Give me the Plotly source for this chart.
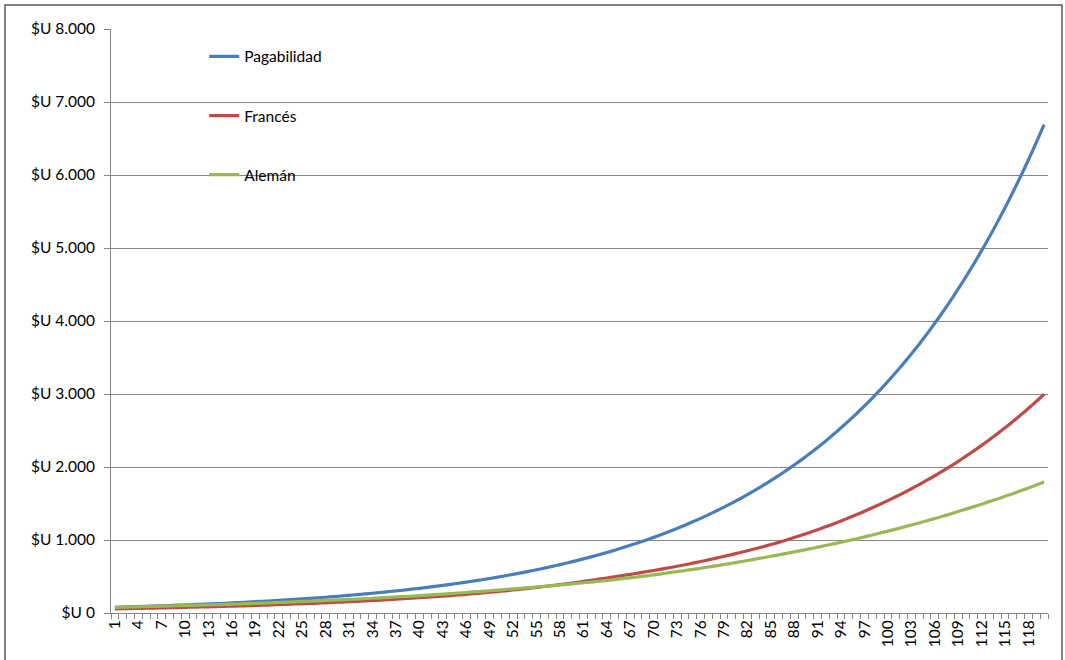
import plotly.graph_objects as go

# Monthly instalment index (1..120)
periods = list(range(1, 121))

# Instalment in $U for each amortisation system
pagabilidad = [
    79, 82, 85, 88, 92, 95, 99, 103, 107, 111,
    115, 119, 124, 128, 133, 138, 144, 149, 155, 161,
    167, 173, 180, 186, 193, 201, 208, 216, 225, 233,
    242, 251, 261, 271, 281, 292, 303, 314, 326, 338,
    351, 365, 379, 393, 408, 423, 439, 456, 473, 491,
    510, 530, 550, 571, 592, 615, 638, 662, 688, 714,
    741, 769, 798, 828, 860, 893, 927, 962, 998, 1036,
    1076, 1117, 1159, 1203, 1249, 1296, 1345, 1397, 1450, 1505,
    1562, 1621, 1683, 1747, 1813, 1882, 1954, 2028, 2105, 2185,
    2268, 2354, 2444, 2537, 2633, 2733, 2837, 2945, 3057, 3173,
    3294, 3419, 3548, 3683, 3823, 3969, 4120, 4276, 4439, 4607,
    4783, 4964, 5153, 5349, 5552, 5763, 5982, 6209, 6445, 6690,
]

frances = [
    57, 59, 61, 63, 65, 67, 70, 72, 74, 77,
    80, 82, 85, 88, 91, 94, 97, 100, 104, 107,
    111, 115, 119, 123, 127, 131, 135, 140, 145, 150,
    155, 160, 166, 171, 177, 183, 189, 195, 202, 209,
    216, 223, 231, 239, 247, 255, 265, 274, 284, 294,
    304, 315, 327, 338, 350, 363, 376, 389, 403, 418,
    432, 448, 463, 480, 497, 514, 529, 547, 565, 582,
    601, 620, 641, 661, 683, 705, 727, 751, 775, 800,
    826, 853, 880, 908, 938, 968, 999, 1033, 1068, 1104,
    1141, 1180, 1220, 1261, 1304, 1348, 1394, 1441, 1490, 1540,
    1592, 1646, 1702, 1759, 1819, 1880, 1944, 2010, 2078, 2148,
    2221, 2296, 2374, 2454, 2537, 2623, 2712, 2804, 2899, 2997,
]

aleman = [
    78, 80, 83, 85, 88, 90, 93, 96, 99, 102,
    105, 108, 111, 114, 118, 121, 125, 128, 132, 136,
    140, 144, 148, 152, 157, 161, 166, 171, 176, 181,
    186, 191, 196, 202, 208, 214, 220, 226, 232, 239,
    245, 252, 259, 266, 274, 281, 289, 297, 305, 313,
    322, 330, 339, 347, 356, 365, 374, 384, 393, 404,
    414, 424, 435, 446, 457, 470, 482, 495, 509, 523,
    537, 552, 567, 582, 598, 613, 630, 646, 664, 682,
    700, 719, 738, 757, 777, 796, 816, 837, 858, 879,
    902, 924, 946, 970, 994, 1018, 1043, 1069, 1095, 1122,
    1149, 1177, 1205, 1234, 1264, 1294, 1325, 1357, 1390, 1423,
    1457, 1491, 1526, 1562, 1598, 1635, 1674, 1713, 1753, 1794,
]

series_names = ["Pagabilidad", "Francés", "Alemán"]
series_colors = ["#4A7EBB", "#BE4B48", "#98B954"]

x_labels = list(range(1, 121, 3))
y_ticks = list(range(0, 8001, 1000))
y_tick_text = ["$U 0", "$U 1.000", "$U 2.000", "$U 3.000", "$U 4.000",
               "$U 5.000", "$U 6.000", "$U 7.000", "$U 8.000"]

FONT = "Lato"
FONT_SIZE = 15.5
AXIS_GREY = "#868686"

fig = go.Figure()
for name, values, color in zip(series_names, [pagabilidad, frances, aleman], series_colors):
    fig.add_trace(go.Scatter(
        x=periods, y=values, name=name, mode="lines",
        line=dict(color=color, width=3.2, shape="spline", smoothing=0.6),
        legendgroup=name,
    ))

fig.update_layout(
    width=1065, height=660,
    margin=dict(l=111, r=17, t=29, b=47),
    paper_bgcolor="white", plot_bgcolor="white",
    font=dict(family=FONT, size=FONT_SIZE, color="black"),
    showlegend=True,
    legend=dict(
        x=0.0995, y=0.9815, xanchor="left", yanchor="top",
        bgcolor="rgba(0,0,0,0)", borderwidth=0,
        tracegroupgap=36, itemwidth=30,
        font=dict(family=FONT, size=FONT_SIZE, color="black"),
    ),
    xaxis=dict(
        range=[0.5, 120.5], tickmode="array", tickvals=x_labels,
        ticktext=[str(v) for v in x_labels], tickangle=-90,
        ticks="", showgrid=False, zeroline=False,
        showline=True, linecolor=AXIS_GREY, linewidth=1,
        minor=dict(tickmode="array", tickvals=[p + 0.5 for p in range(0, 121)],
                   ticks="outside", ticklen=5, tickcolor=AXIS_GREY, tickwidth=1,
                   showgrid=False),
        tickfont=dict(family=FONT, size=FONT_SIZE),
        fixedrange=True,
    ),
    yaxis=dict(
        range=[0, 8000], tickmode="array", tickvals=y_ticks, ticktext=y_tick_text,
        ticks="outside", ticklen=6, tickcolor=AXIS_GREY,
        showgrid=True, gridcolor=AXIS_GREY, gridwidth=1,
        zeroline=False, showline=True, linecolor=AXIS_GREY, linewidth=1,
        ticklabelstandoff=6,
        tickfont=dict(family=FONT, size=FONT_SIZE),
        fixedrange=True,
    ),
)

# Outer chart-area frame
fig.add_shape(
    type="rect", xref="paper", yref="paper",
    x0=(5 - 111) / 937, x1=(1062 - 111) / 937,
    y0=(613 - 680) / 584, y1=(613 - 5) / 584,
    line=dict(color="#595959", width=1.5), fillcolor="rgba(0,0,0,0)",
    layer="below",
)

fig.write_html("out.html")
